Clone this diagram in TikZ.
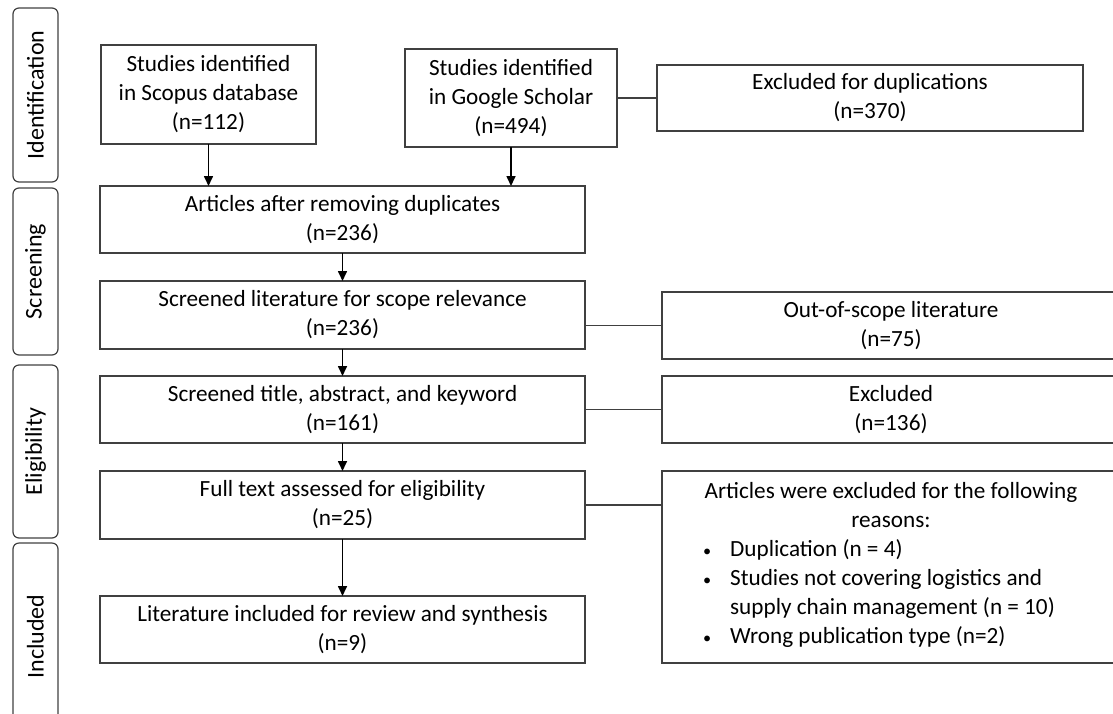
\documentclass[tikz,border=0pt]{standalone}
\usepackage{fontspec}
\setmainfont{Carlito}
\usetikzlibrary{arrows.meta}

\begin{document}
\begin{tikzpicture}[
	x=0.5pt, y=-0.5pt,
	font=\fontsize{11.6}{14.5}\selectfont,
	box/.style={ draw=black!75, line width=0.8pt, fill=white, align=center, inner sep=0pt, outer sep=0pt },
	mainbox/.style={ box, minimum width=242.5pt, minimum height=33.5pt },
	sidebox/.style={ box, minimum width=229pt, minimum height=33.5pt },
	phase/.style={ draw=black!75, line width=0.6pt, rounded corners=3pt, rotate=90, minimum height=22.5pt, inner sep=0pt, font=\fontsize{12}{14.5}\selectfont },
	arrow/.style={ draw=black, line width=0.8pt, -{Triangle[width=4.5pt,length=5pt]} },
	link/.style={ draw=black!75, line width=0.8pt }
]
\useasboundingbox (0,0) rectangle (1113,713);
\clip (0,0) rectangle (1113,713);

% phases
\node at (35.5,95) (pid) [phase,minimum width=87pt] {Identification};
\node at (35.5,271.5) (pscr) [phase,minimum width=83.5pt] {Screening};
\node at (35.5,451.5) (pelig) [phase,minimum width=86.5pt] {Eligibility};
\node at (35.5,636.5) (pincl) [phase,minimum width=93.5pt] {Included};

% identification
\node at (208.5,94.5) (scopus) [box,minimum width=107.5pt,minimum height=49.5pt] {Studies identified\\in Scopus database\\(n=112)};
\node at (511,98) (scholar) [box,minimum width=106pt,minimum height=49pt] {Studies identified\\in Google Scholar\\(n=494)};
\node at (870,98) (dup) [box,minimum width=213pt,minimum height=33pt] {Excluded for duplications\\(n=370)};

% main column
\node at (342.5,219.5) (remove) [mainbox] {Articles after removing duplicates\\(n=236)};
\node at (342.5,315) (scope) [mainbox,minimum height=34pt] {Screened literature for scope relevance\\(n=236)};
\node at (342.5,409.5) (title) [mainbox] {Screened title, abstract, and keyword\\(n=161)};
\node at (342.5,505) (full) [mainbox,minimum height=34pt] {Full text assessed for eligibility\\(n=25)};
\node at (342.5,629.5) (incl) [mainbox] {Literature included for review and synthesis\\(n=9)};

% exclusions
\node at (891,325.5) (outscope) [sidebox] {Out-of-scope literature\\(n=75)};
\node at (891,409.5) (excl) [sidebox] {Excluded\\(n=136)};
\node at (891,567) (reasons) [sidebox,minimum height=96pt] {Articles were excluded for the following\\reasons:\\
	\begin{tabular}[t]{@{}l@{}l@{}}
	\makebox[13.5pt][l]{\scalebox{0.7}{\textbullet}} & Duplication (n = 4)\\
	\makebox[13.5pt][l]{\scalebox{0.7}{\textbullet}} & Studies not covering logistics and\\
	 & supply chain management (n = 10)\\
	\makebox[13.5pt][l]{\scalebox{0.7}{\textbullet}} & Wrong publication type (n=2)
	\end{tabular}\hspace*{12pt}};

% arrows
\draw[arrow] (scopus) to (scopus |- remove.north);
\draw[arrow] (scholar) to (scholar |- remove.north);
\foreach \p/\q in {remove/scope,scope/title,title/full,full/incl} \draw[arrow] (\p) to (\q);

% side links
\draw[link] (scholar) to (dup);
\draw[link] (outscope) to (outscope -| scope.east);
\draw[link] (title) to (excl);
\draw[link] (full) to (full -| reasons.west);

\end{tikzpicture}
\end{document}
